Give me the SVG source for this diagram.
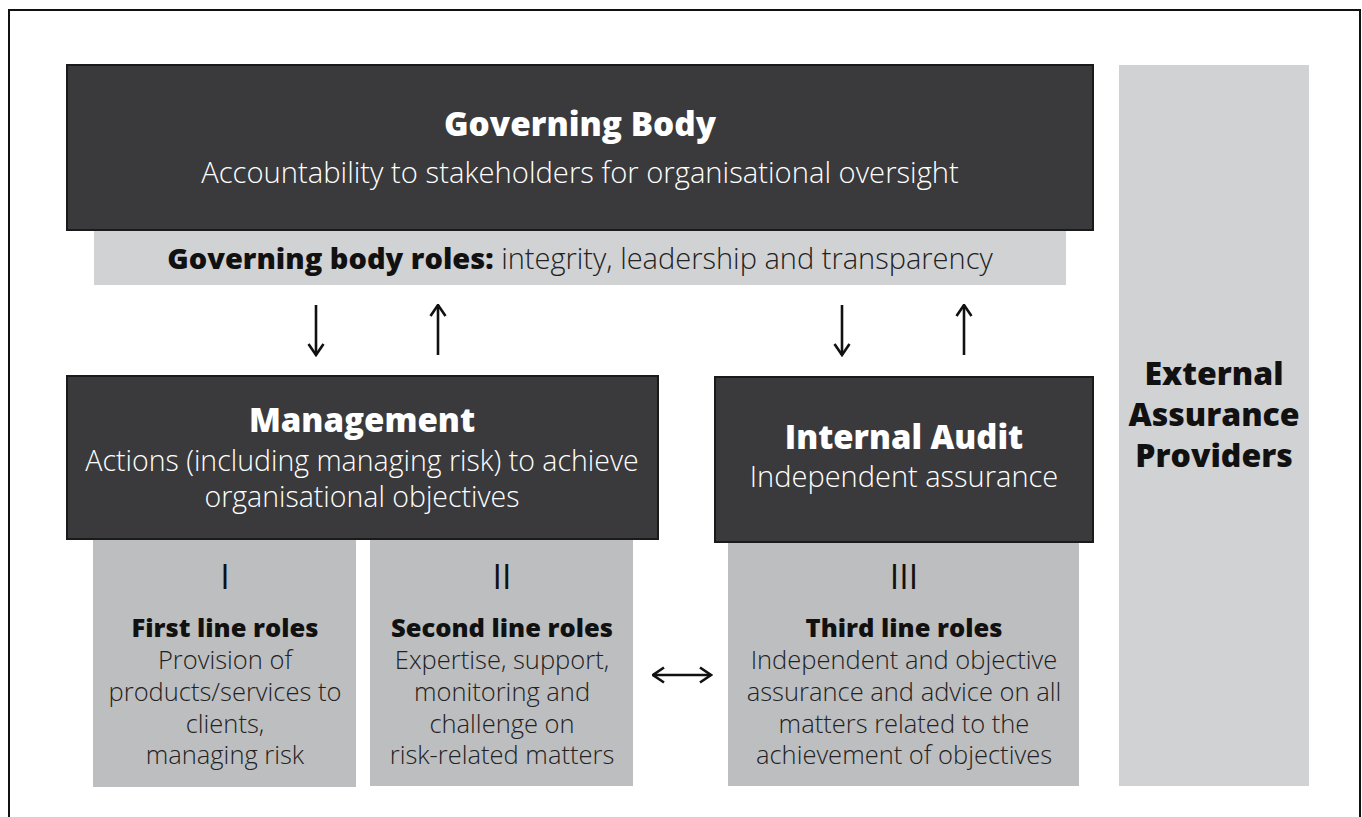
<svg xmlns="http://www.w3.org/2000/svg" width="1362" height="817" viewBox="0 0 1362 817">
<style>
.dark{fill:#3a3a3c;stroke:#1a1a1a;stroke-width:2}
.light{fill:#d1d2d4}
.mid{fill:#bdbec0}
text{font-family:"Open Sans","Noto Sans","Liberation Sans",sans-serif;text-anchor:middle}
.wb{fill:#ffffff;font-weight:800}
.wl{fill:#ffffff;font-weight:300}
.bb{fill:#111111;font-weight:800}
.bl{fill:#222222;font-weight:300}
.num{fill:#111111;font-weight:500}
.conn{stroke:#111;stroke-width:2.6;fill:none}
</style>
<defs>
<marker id="ah" viewBox="0 0 14 18" refX="12.5" refY="9" markerWidth="14" markerHeight="18" markerUnits="userSpaceOnUse" orient="auto-start-reverse">
<path d="M1.5,1.5 L12.5,9 L1.5,16.5" fill="none" stroke="#111" stroke-width="2.6"/>
</marker>
</defs>
<rect x="0" y="0" width="1362" height="817" fill="#ffffff"/>
<path d="M9,817 V10 H1360 V817" fill="none" stroke="#111" stroke-width="2"/>

<g id="external">
<rect class="light" x="1119" y="65" width="190" height="721"/>
<text class="bb" x="1214" y="385" font-size="32">External</text>
<text class="bb" x="1214" y="426" font-size="32">Assurance</text>
<text class="bb" x="1214" y="467" font-size="32">Providers</text>
</g>

<g id="governing-body">
<rect class="dark" x="67" y="65" width="1026" height="165"/>
<text class="wb" x="580" y="136" font-size="33.3">Governing Body</text>
<text class="wl" x="580" y="183" font-size="29.2">Accountability to stakeholders for organisational oversight</text>
</g>

<g id="governing-roles">
<rect class="light" x="94" y="231" width="972" height="54"/>
<text x="580" y="269" font-size="29"><tspan class="bb">Governing body roles:</tspan><tspan class="bl"> integrity, leadership and transparency</tspan></text>
</g>

<g id="management">
<rect class="dark" x="67" y="376" width="591" height="163"/>
<text class="wb" x="362" y="432" font-size="33">Management</text>
<text class="wl" x="362" y="471" font-size="28.5">Actions (including managing risk) to achieve</text>
<text class="wl" x="362" y="507" font-size="28.5">organisational objectives</text>
</g>

<g id="internal-audit">
<rect class="dark" x="715" y="377" width="378" height="165"/>
<text class="wb" x="904" y="449" font-size="32.8">Internal Audit</text>
<text class="wl" x="904" y="487" font-size="29">Independent assurance</text>
</g>

<g id="first-line">
<rect class="mid" x="93" y="540" width="263" height="247"/>
<text class="num" x="225" y="589" font-size="34">I</text>
<text class="bb" x="225" y="637" font-size="25.5">First line roles</text>
<text class="bl" x="225" y="669" font-size="25.5">Provision of</text>
<text class="bl" x="225" y="701" font-size="25.5">products/services to</text>
<text class="bl" x="225" y="733" font-size="25.5">clients,</text>
<text class="bl" x="225" y="764" font-size="25.5">managing risk</text>
</g>

<g id="second-line">
<rect class="mid" x="370" y="540" width="263" height="246"/>
<text class="num" x="502" y="589" font-size="34">II</text>
<text class="bb" x="502" y="637" font-size="25.5">Second line roles</text>
<text class="bl" x="502" y="669" font-size="25.5">Expertise, support,</text>
<text class="bl" x="502" y="701" font-size="25.5">monitoring and</text>
<text class="bl" x="502" y="733" font-size="25.5">challenge on</text>
<text class="bl" x="502" y="764" font-size="25.5">risk-related matters</text>
</g>

<g id="third-line">
<rect class="mid" x="728" y="543" width="351" height="243"/>
<text class="num" x="904" y="589" font-size="34">III</text>
<text class="bb" x="904" y="637" font-size="25.5">Third line roles</text>
<text class="bl" x="904" y="669" font-size="25.5">Independent and objective</text>
<text class="bl" x="904" y="701" font-size="25.5">assurance and advice on all</text>
<text class="bl" x="904" y="733" font-size="25.5">matters related to the</text>
<text class="bl" x="904" y="764" font-size="25.5">achievement of objectives</text>
</g>

<g id="connectors">
<line class="conn" x1="316" y1="305" x2="316" y2="355" marker-end="url(#ah)"/>
<line class="conn" x1="438" y1="355" x2="438" y2="305" marker-end="url(#ah)"/>
<line class="conn" x1="842" y1="305" x2="842" y2="355" marker-end="url(#ah)"/>
<line class="conn" x1="964" y1="355" x2="964" y2="305" marker-end="url(#ah)"/>
<line class="conn" x1="653" y1="675" x2="711" y2="675" marker-start="url(#ah)" marker-end="url(#ah)"/>
</g>
</svg>
